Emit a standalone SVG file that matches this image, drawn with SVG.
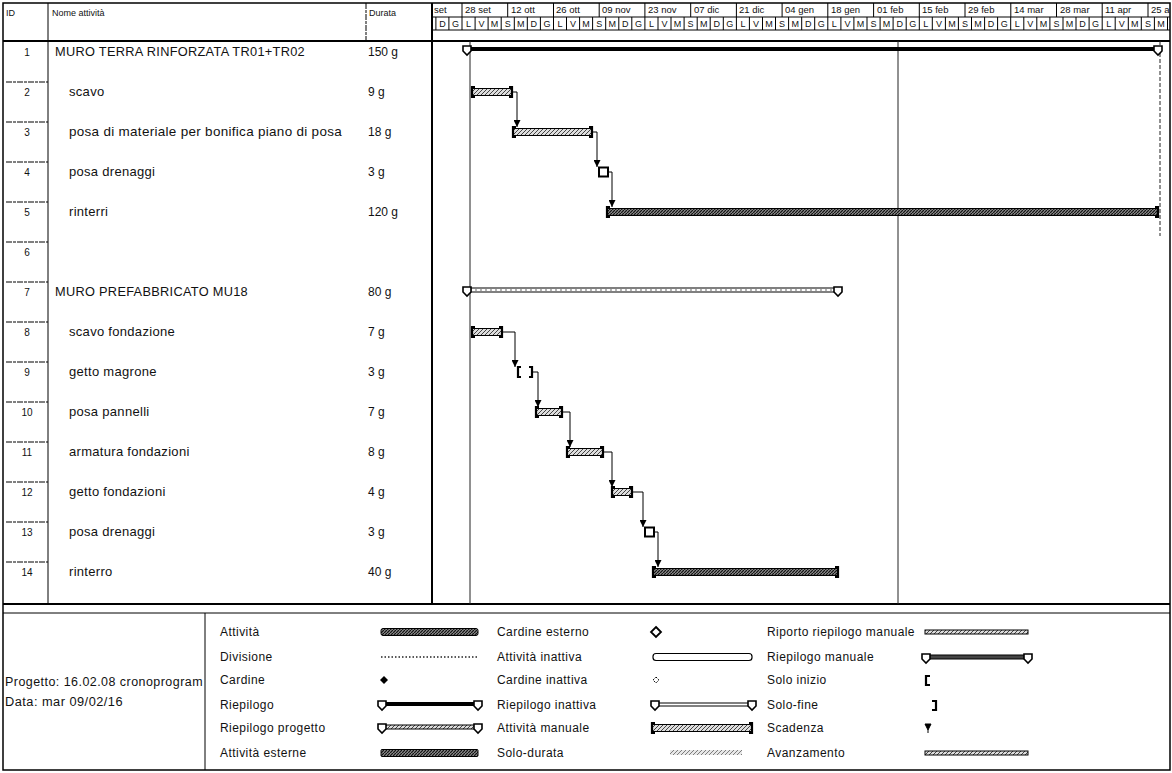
<svg xmlns="http://www.w3.org/2000/svg" width="1172" height="773" viewBox="0 0 1172 773">
<style>
text{font-family:"Liberation Sans",Arial,sans-serif;fill:#111}
.hd{font-size:9px}
.ts{font-size:9.5px}
.tl{font-size:9px;text-anchor:middle}
.id{font-size:10px;text-anchor:middle}
.nm{font-size:13px;letter-spacing:0.3px}
.du{font-size:12px}
.lg{font-size:12px;letter-spacing:0.45px}
.ln{stroke:#000;stroke-width:1;fill:none}
.thk{stroke:#000;stroke-width:2;fill:none}
.rd{stroke:#000;stroke-width:1;stroke-dasharray:6 1 3 1}
.bar{fill:url(#hatch);stroke:#000;stroke-width:1}
.barD{fill:url(#hatchD);stroke:#000;stroke-width:1}
.brk{stroke:#000;stroke-width:2.2;fill:none}
.lnk{stroke:#000;stroke-width:1;fill:none;marker-end:url(#arr)}
.sumEnd{fill:#fff;stroke:#000;stroke-width:1.6}
.vl{stroke:#222;stroke-width:1}
</style>
<defs>
<pattern id="hatch" width="4" height="4" patternUnits="userSpaceOnUse">
<rect width="4" height="4" fill="#ddd"/>
<path d="M0,4 L4,0" stroke="#444" stroke-width="1"/>
</pattern>
<pattern id="hatchD" width="3" height="3" patternUnits="userSpaceOnUse">
<rect width="3" height="3" fill="#888"/>
<path d="M0,3 L3,0" stroke="#111" stroke-width="1.2"/>
</pattern>
<marker id="arr" viewBox="0 0 8 8" refX="8" refY="4" markerWidth="7" markerHeight="7" markerUnits="userSpaceOnUse" orient="auto">
<path d="M0,0 L8,4 L0,8 z" fill="#000"/>
</marker>
<clipPath id="gclip"><rect x="432" y="3" width="738" height="601"/></clipPath>
</defs>
<rect x="0" y="0" width="1172" height="773" fill="#fff"/>

<!-- frame and grid -->
<g id="grid">
<rect x="3" y="3" width="1167" height="767" fill="none" stroke="#000" stroke-width="1.5"/>
<line class="thk" x1="3" y1="41" x2="1170" y2="41"/>
<line class="ln" x1="48" y1="3" x2="48" y2="604"/>
<line class="rd" x1="366" y1="3" x2="366" y2="41"/>
<line class="thk" x1="432" y1="3" x2="432" y2="604"/>
<line class="thk" x1="3" y1="604" x2="1170" y2="604"/>
<line class="ln" x1="3" y1="613" x2="1170" y2="613"/>
<line class="ln" x1="205" y1="613" x2="205" y2="770"/>
<g class="rd">
<line x1="6" y1="82" x2="48" y2="82"/><line x1="6" y1="122" x2="48" y2="122"/>
<line x1="6" y1="162" x2="48" y2="162"/><line x1="6" y1="202" x2="48" y2="202"/>
<line x1="6" y1="242" x2="48" y2="242"/><line x1="6" y1="282" x2="48" y2="282"/>
<line x1="6" y1="322" x2="48" y2="322"/><line x1="6" y1="362" x2="48" y2="362"/>
<line x1="6" y1="402" x2="48" y2="402"/><line x1="6" y1="442" x2="48" y2="442"/>
<line x1="6" y1="482" x2="48" y2="482"/><line x1="6" y1="522" x2="48" y2="522"/>
<line x1="6" y1="562" x2="48" y2="562"/>
</g>
</g>

<!-- table header -->
<g id="tableHeader">
<text class="hd" x="6" y="16">ID</text>
<text class="hd" x="52" y="16">Nome attività</text>
<text class="hd" x="369" y="16">Durata</text>
</g>

<!-- timescale -->
<g id="timescale" clip-path="url(#gclip)">
<line class="ln" x1="432" y1="17" x2="1170" y2="17"/>
<line class="ln" x1="432" y1="30" x2="1170" y2="30"/>
<g class="ln">
<line x1="462" y1="3" x2="462" y2="17"/><line x1="507.7" y1="3" x2="507.7" y2="17"/>
<line x1="553.5" y1="3" x2="553.5" y2="17"/><line x1="599.2" y1="3" x2="599.2" y2="17"/>
<line x1="644.9" y1="3" x2="644.9" y2="17"/><line x1="690.7" y1="3" x2="690.7" y2="17"/>
<line x1="736.4" y1="3" x2="736.4" y2="17"/><line x1="782.1" y1="3" x2="782.1" y2="17"/>
<line x1="827.8" y1="3" x2="827.8" y2="17"/><line x1="873.6" y1="3" x2="873.6" y2="17"/>
<line x1="919.3" y1="3" x2="919.3" y2="17"/><line x1="965" y1="3" x2="965" y2="17"/>
<line x1="1010.8" y1="3" x2="1010.8" y2="17"/><line x1="1056.5" y1="3" x2="1056.5" y2="17"/>
<line x1="1102.2" y1="3" x2="1102.2" y2="17"/><line x1="1148" y1="3" x2="1148" y2="17"/>
</g>
<text class="ts" x="434" y="13">set</text>
<text class="ts" x="465" y="13">28 set</text>
<text class="ts" x="511" y="13">12 ott</text>
<text class="ts" x="556" y="13">26 ott</text>
<text class="ts" x="602" y="13">09 nov</text>
<text class="ts" x="648" y="13">23 nov</text>
<text class="ts" x="694" y="13">07 dic</text>
<text class="ts" x="739" y="13">21 dic</text>
<text class="ts" x="785" y="13">04 gen</text>
<text class="ts" x="831" y="13">18 gen</text>
<text class="ts" x="877" y="13">01 feb</text>
<text class="ts" x="922" y="13">15 feb</text>
<text class="ts" x="968" y="13">29 feb</text>
<text class="ts" x="1014" y="13">14 mar</text>
<text class="ts" x="1060" y="13">28 mar</text>
<text class="ts" x="1105" y="13">11 apr</text>
<text class="ts" x="1151" y="13">25 a</text>
<g class="ln">
<line x1="435.9" y1="17" x2="435.9" y2="30"/><line x1="448.9" y1="17" x2="448.9" y2="30"/>
<line x1="462" y1="17" x2="462" y2="30"/><line x1="475.1" y1="17" x2="475.1" y2="30"/>
<line x1="488.1" y1="17" x2="488.1" y2="30"/><line x1="501.2" y1="17" x2="501.2" y2="30"/>
<line x1="514.3" y1="17" x2="514.3" y2="30"/><line x1="527.3" y1="17" x2="527.3" y2="30"/>
<line x1="540.4" y1="17" x2="540.4" y2="30"/><line x1="553.5" y1="17" x2="553.5" y2="30"/>
<line x1="566.5" y1="17" x2="566.5" y2="30"/><line x1="579.6" y1="17" x2="579.6" y2="30"/>
<line x1="592.6" y1="17" x2="592.6" y2="30"/><line x1="605.7" y1="17" x2="605.7" y2="30"/>
<line x1="618.8" y1="17" x2="618.8" y2="30"/><line x1="631.8" y1="17" x2="631.8" y2="30"/>
<line x1="644.9" y1="17" x2="644.9" y2="30"/><line x1="658" y1="17" x2="658" y2="30"/>
<line x1="671" y1="17" x2="671" y2="30"/><line x1="684.1" y1="17" x2="684.1" y2="30"/>
<line x1="697.2" y1="17" x2="697.2" y2="30"/><line x1="710.2" y1="17" x2="710.2" y2="30"/>
<line x1="723.3" y1="17" x2="723.3" y2="30"/><line x1="736.4" y1="17" x2="736.4" y2="30"/>
<line x1="749.4" y1="17" x2="749.4" y2="30"/><line x1="762.5" y1="17" x2="762.5" y2="30"/>
<line x1="775.5" y1="17" x2="775.5" y2="30"/><line x1="788.6" y1="17" x2="788.6" y2="30"/>
<line x1="801.7" y1="17" x2="801.7" y2="30"/><line x1="814.7" y1="17" x2="814.7" y2="30"/>
<line x1="827.8" y1="17" x2="827.8" y2="30"/><line x1="840.9" y1="17" x2="840.9" y2="30"/>
<line x1="853.9" y1="17" x2="853.9" y2="30"/><line x1="867" y1="17" x2="867" y2="30"/>
<line x1="880.1" y1="17" x2="880.1" y2="30"/><line x1="893.1" y1="17" x2="893.1" y2="30"/>
<line x1="906.2" y1="17" x2="906.2" y2="30"/><line x1="919.3" y1="17" x2="919.3" y2="30"/>
<line x1="932.3" y1="17" x2="932.3" y2="30"/><line x1="945.4" y1="17" x2="945.4" y2="30"/>
<line x1="958.4" y1="17" x2="958.4" y2="30"/><line x1="971.5" y1="17" x2="971.5" y2="30"/>
<line x1="984.6" y1="17" x2="984.6" y2="30"/><line x1="997.6" y1="17" x2="997.6" y2="30"/>
<line x1="1010.7" y1="17" x2="1010.7" y2="30"/><line x1="1023.8" y1="17" x2="1023.8" y2="30"/>
<line x1="1036.8" y1="17" x2="1036.8" y2="30"/><line x1="1049.9" y1="17" x2="1049.9" y2="30"/>
<line x1="1063" y1="17" x2="1063" y2="30"/><line x1="1076" y1="17" x2="1076" y2="30"/>
<line x1="1089.1" y1="17" x2="1089.1" y2="30"/><line x1="1102.2" y1="17" x2="1102.2" y2="30"/>
<line x1="1115.2" y1="17" x2="1115.2" y2="30"/><line x1="1128.3" y1="17" x2="1128.3" y2="30"/>
<line x1="1141.3" y1="17" x2="1141.3" y2="30"/><line x1="1154.4" y1="17" x2="1154.4" y2="30"/>
<line x1="1167.5" y1="17" x2="1167.5" y2="30"/>
</g>
<g class="tl">
<text x="442.4" y="27">D</text><text x="455.4" y="27">G</text>
<text x="468.5" y="27">L</text><text x="481.6" y="27">V</text><text x="494.6" y="27">M</text><text x="507.7" y="27">S</text><text x="520.8" y="27">M</text><text x="533.8" y="27">D</text><text x="546.9" y="27">G</text>
<text x="560" y="27">L</text><text x="573" y="27">V</text><text x="586.1" y="27">M</text><text x="599.2" y="27">S</text><text x="612.2" y="27">M</text><text x="625.3" y="27">D</text><text x="638.4" y="27">G</text>
<text x="651.4" y="27">L</text><text x="664.5" y="27">V</text><text x="677.6" y="27">M</text><text x="690.6" y="27">S</text><text x="703.7" y="27">M</text><text x="716.8" y="27">D</text><text x="729.8" y="27">G</text>
<text x="742.9" y="27">L</text><text x="756" y="27">V</text><text x="769" y="27">M</text><text x="782.1" y="27">S</text><text x="795.2" y="27">M</text><text x="808.2" y="27">D</text><text x="821.3" y="27">G</text>
<text x="834.3" y="27">L</text><text x="847.4" y="27">V</text><text x="860.5" y="27">M</text><text x="873.5" y="27">S</text><text x="886.6" y="27">M</text><text x="899.7" y="27">D</text><text x="912.7" y="27">G</text>
<text x="925.8" y="27">L</text><text x="938.9" y="27">V</text><text x="951.9" y="27">M</text><text x="965" y="27">S</text><text x="978.1" y="27">M</text><text x="991.1" y="27">D</text><text x="1004.2" y="27">G</text>
<text x="1017.2" y="27">L</text><text x="1030.3" y="27">V</text><text x="1043.4" y="27">M</text><text x="1056.4" y="27">S</text><text x="1069.5" y="27">M</text><text x="1082.6" y="27">D</text><text x="1095.6" y="27">G</text>
<text x="1108.7" y="27">L</text><text x="1121.8" y="27">V</text><text x="1134.8" y="27">M</text><text x="1147.9" y="27">S</text><text x="1161" y="27">M</text>
</g>
</g>

<!-- chart vertical lines -->
<g id="chartLines">
<line class="vl" x1="470" y1="41" x2="470" y2="604"/>
<line class="vl" x1="898" y1="41" x2="898" y2="604"/>
<line class="vl" x1="1160" y1="41" x2="1160" y2="236" stroke-dasharray="4 2"/>
</g>

<!-- tasks -->
<g id="task1">
<text class="id" x="27" y="56">1</text>
<text class="nm" x="55" y="56" textLength="250" lengthAdjust="spacingAndGlyphs">MURO TERRA RINFORZATA TR01+TR02</text>
<text class="du" x="368" y="56">150 g</text>
<rect x="467" y="47" width="691" height="4" fill="#000"/>
<polygon class="sumEnd" points="463,46 471,46 471,51 467,55 463,51"/>
<polygon class="sumEnd" points="1154,46 1162,46 1162,51 1158,55 1154,51"/>
</g>
<g id="task2">
<text class="id" x="27" y="96">2</text>
<text class="nm" x="69" y="96">scavo</text>
<text class="du" x="368" y="96">9 g</text>
<rect class="bar" x="472" y="88.5" width="40" height="7"/>
<path class="brk" d="M475,87 H472 V97 H475 M509,87 H512 V97 H509"/>
</g>
<g id="task3">
<text class="id" x="27" y="136">3</text>
<text class="nm" x="69" y="136" textLength="273" lengthAdjust="spacingAndGlyphs">posa di materiale per bonifica piano di posa</text>
<text class="du" x="368" y="136">18 g</text>
<rect class="bar" x="513" y="128.5" width="79" height="7"/>
<path class="brk" d="M516,127 H513 V137 H516 M589,127 H592 V137 H589"/>
</g>
<g id="task4">
<text class="id" x="27" y="176">4</text>
<text class="nm" x="69" y="176">posa drenaggi</text>
<text class="du" x="368" y="176">3 g</text>
<rect x="599" y="167.5" width="9" height="9" fill="#fff" stroke="#000" stroke-width="2"/>
</g>
<g id="task5">
<text class="id" x="27" y="216">5</text>
<text class="nm" x="69" y="216">rinterri</text>
<text class="du" x="368" y="216">120 g</text>
<rect class="barD" x="607" y="208.5" width="551" height="7"/>
<path class="brk" d="M610,207 H607 V217 H610 M1155,207 H1158 V217 H1155"/>
</g>
<g id="task6">
<text class="id" x="27" y="256">6</text>
</g>
<g id="task7">
<text class="id" x="27" y="296">7</text>
<text class="nm" x="55" y="296" textLength="193" lengthAdjust="spacingAndGlyphs">MURO PREFABBRICATO MU18</text>
<text class="du" x="368" y="296">80 g</text>
<rect x="467" y="288" width="371" height="4" fill="#fff" stroke="#000" stroke-width="1"/>
<line x1="470" y1="290" x2="835" y2="290" stroke="#666" stroke-width="1" stroke-dasharray="2 3"/>
<polygon class="sumEnd" points="463,287 471,287 471,292 467,296 463,292"/>
<polygon class="sumEnd" points="834,287 842,287 842,292 838,296 834,292"/>
</g>
<g id="task8">
<text class="id" x="27" y="336">8</text>
<text class="nm" x="69" y="336">scavo fondazione</text>
<text class="du" x="368" y="336">7 g</text>
<rect class="bar" x="472" y="328.5" width="30" height="7"/>
<path class="brk" d="M475,327 H472 V337 H475 M499,327 H502 V337 H499"/>
</g>
<g id="task9">
<text class="id" x="27" y="376">9</text>
<text class="nm" x="69" y="376">getto magrone</text>
<text class="du" x="368" y="376">3 g</text>
<path class="brk" d="M521,367 H518 V377 H521 M529,367 H532 V377 H529"/>
</g>
<g id="task10">
<text class="id" x="27" y="416">10</text>
<text class="nm" x="69" y="416">posa pannelli</text>
<text class="du" x="368" y="416">7 g</text>
<rect class="bar" x="536" y="408.5" width="26" height="7"/>
<path class="brk" d="M539,407 H536 V417 H539 M559,407 H562 V417 H559"/>
</g>
<g id="task11">
<text class="id" x="27" y="456">11</text>
<text class="nm" x="69" y="456">armatura fondazioni</text>
<text class="du" x="368" y="456">8 g</text>
<rect class="bar" x="567" y="448.5" width="36" height="7"/>
<path class="brk" d="M570,447 H567 V457 H570 M600,447 H603 V457 H600"/>
</g>
<g id="task12">
<text class="id" x="27" y="496">12</text>
<text class="nm" x="69" y="496">getto fondazioni</text>
<text class="du" x="368" y="496">4 g</text>
<rect class="bar" x="612" y="488.5" width="20" height="7"/>
<path class="brk" d="M615,487 H612 V497 H615 M629,487 H632 V497 H629"/>
</g>
<g id="task13">
<text class="id" x="27" y="536">13</text>
<text class="nm" x="69" y="536">posa drenaggi</text>
<text class="du" x="368" y="536">3 g</text>
<rect x="645" y="527.5" width="9" height="9" fill="#fff" stroke="#000" stroke-width="2"/>
</g>
<g id="task14">
<text class="id" x="27" y="576">14</text>
<text class="nm" x="69" y="576">rinterro</text>
<text class="du" x="368" y="576">40 g</text>
<rect class="barD" x="653" y="568.5" width="185" height="7"/>
<path class="brk" d="M656,567 H653 V577 H656 M835,567 H838 V577 H835"/>
</g>

<!-- connectors -->
<g id="connectors">
<path class="lnk" d="M513,92 H517 V127"/>
<path class="lnk" d="M592,132 H597 V167"/>
<path class="lnk" d="M608,172 H612 V207"/>
<path class="lnk" d="M502,332 H515 V367"/>
<path class="lnk" d="M533,372 H538 V407"/>
<path class="lnk" d="M562,412 H570 V447"/>
<path class="lnk" d="M603,452 H612 V487"/>
<path class="lnk" d="M632,492 H643 V527"/>
<path class="lnk" d="M654,532 H658 V567"/>
</g>

<!-- legend -->
<g id="legendInfo">
<text class="lg" x="5" y="686" textLength="198" lengthAdjust="spacingAndGlyphs">Progetto: 16.02.08 cronoprogram</text>
<text class="lg" x="5" y="706" textLength="118" lengthAdjust="spacingAndGlyphs">Data: mar 09/02/16</text>
</g>
<g id="legend">
<text class="lg" x="220" y="636">Attività</text>
<text class="lg" x="220" y="661">Divisione</text>
<text class="lg" x="220" y="684">Cardine</text>
<text class="lg" x="220" y="709">Riepilogo</text>
<text class="lg" x="220" y="732">Riepilogo progetto</text>
<text class="lg" x="220" y="757">Attività esterne</text>

<rect class="barD" x="381" y="628.5" width="97" height="7" rx="2"/>
<line x1="381" y1="657" x2="478" y2="657" stroke="#222" stroke-width="1.5" stroke-dasharray="1.5 2"/>
<polygon points="384,676 388,680 384,684 380,680" fill="#000"/>
<rect x="381" y="702" width="96" height="4" fill="#000"/>
<polygon class="sumEnd" points="378,701 386,701 386,706 382,710 378,706"/>
<polygon class="sumEnd" points="474,701 482,701 482,706 478,710 474,706"/>
<rect x="381" y="725" width="96" height="4" fill="url(#hatch)" stroke="#000" stroke-width="1"/>
<polygon class="sumEnd" points="378,724 386,724 386,729 382,733 378,729"/>
<polygon class="sumEnd" points="474,724 482,724 482,729 478,733 474,729"/>
<rect class="barD" x="381" y="749.5" width="97" height="7" rx="1"/>

<text class="lg" x="497" y="636">Cardine esterno</text>
<text class="lg" x="497" y="661">Attività inattiva</text>
<text class="lg" x="497" y="684">Cardine inattiva</text>
<text class="lg" x="497" y="709">Riepilogo inattiva</text>
<text class="lg" x="497" y="732">Attività manuale</text>
<text class="lg" x="497" y="757">Solo-durata</text>

<polygon points="656,627 661,632 656,637 651,632" fill="#fff" stroke="#000" stroke-width="1.8"/>
<rect x="653" y="653.5" width="99" height="7" rx="3" fill="#fff" stroke="#000" stroke-width="1.2"/>
<polygon points="656,677 659,680 656,683 653,680" fill="#fff" stroke="#000" stroke-width="1" stroke-dasharray="1.5 1"/>
<rect x="655" y="703" width="97" height="3" fill="#fff" stroke="#000" stroke-width="1"/>
<polygon class="sumEnd" points="651,701 659,701 659,706 655,710 651,706"/>
<polygon class="sumEnd" points="748,701 756,701 756,706 752,710 748,706"/>
<rect class="bar" x="652" y="724.5" width="100" height="7"/>
<path class="brk" d="M655,723 H652 V733 H655 M749,723 H752 V733 H749"/>
<rect x="670" y="750" width="72" height="5" fill="url(#hatch)" opacity="0.7"/>

<text class="lg" x="767" y="636">Riporto riepilogo manuale</text>
<text class="lg" x="767" y="661">Riepilogo manuale</text>
<text class="lg" x="767" y="684">Solo inizio</text>
<text class="lg" x="767" y="709">Solo-fine</text>
<text class="lg" x="767" y="732">Scadenza</text>
<text class="lg" x="767" y="757">Avanzamento</text>

<rect x="925" y="630" width="103" height="4" fill="url(#hatch)" stroke="#000" stroke-width="1"/>
<rect x="925" y="655" width="103" height="4" fill="#444" stroke="#000" stroke-width="1"/>
<polygon class="sumEnd" points="922,654 930,654 930,659 926,663 922,659"/>
<polygon class="sumEnd" points="1024,654 1032,654 1032,659 1028,663 1024,659"/>
<path class="brk" d="M930,676 H926 V685 H930" stroke-width="2.6"/>
<path class="brk" d="M932,701 H936 V710 H932" stroke-width="2.6"/>
<path d="M925,724 H931 L928,730 Z M928,730 V733" fill="#000" stroke="#000" stroke-width="1"/>
<rect x="925" y="751" width="103" height="4" fill="url(#hatch)" stroke="#000" stroke-width="1"/>
</g>
</svg>
